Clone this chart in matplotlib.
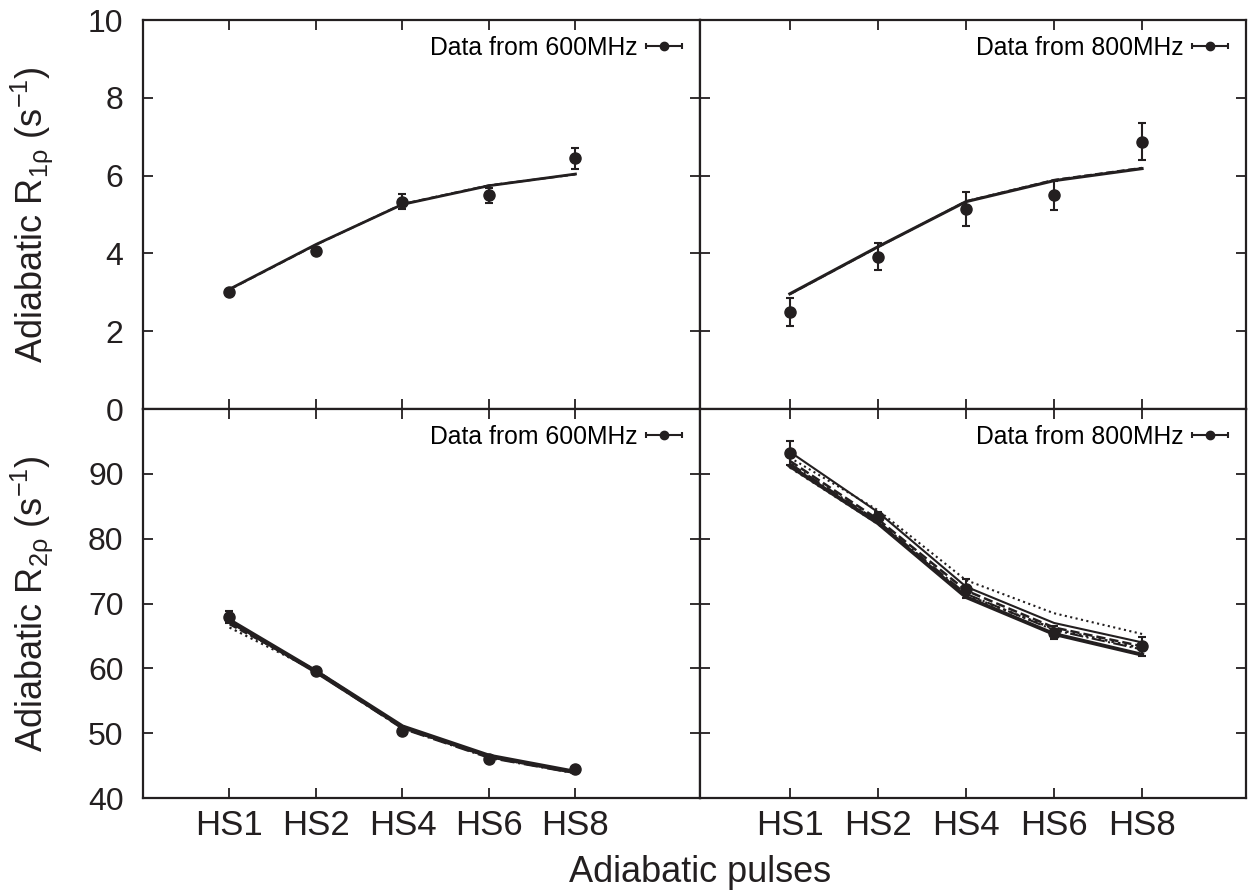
import numpy as np
import matplotlib
matplotlib.use('Agg')
import matplotlib.pyplot as plt
from matplotlib.legend_handler import HandlerErrorbar
from matplotlib.container import ErrorbarContainer

plt.rcParams['font.family'] = ['Liberation Sans', 'DejaVu Sans']

# Data
pulses = ['HS1', 'HS2', 'HS4', 'HS6', 'HS8']
xpos = np.arange(1, 6)

# R1rho
r1_600 = [3.00, 4.05, 5.33, 5.49, 6.44]
r1_600_err = [0.05, 0.05, 0.20, 0.20, 0.28]
r1_600_fit = [3.08, 4.23, 5.26, 5.74, 6.04]
r1_600_fit2 = [3.07, 4.22, 5.27, 5.75, 6.03]

r1_800 = [2.49, 3.92, 5.15, 5.49, 6.87]
r1_800_err = [0.36, 0.35, 0.44, 0.37, 0.48]
r1_800_fit = [2.96, 4.17, 5.33, 5.87, 6.18]
r1_800_fit2 = [2.95, 4.16, 5.34, 5.89, 6.20]

# R2rho
r2_600 = [67.9, 59.6, 50.4, 46.0, 44.4]
r2_600_err = [0.9, 0.4, 0.4, 0.4, 0.4]
r2_600_fits = [
    [67.4, 59.5, 51.0, 46.5, 44.0],
    [66.3, 59.6, 50.8, 46.3, 43.9],
    [66.8, 59.7, 50.9, 46.4, 44.0],
    [67.1, 59.4, 50.7, 46.2, 43.8],
]
r2_600_styles = ['-', ':', '--', '-.']
r2_600_widths = [3.2, 1.6, 1.6, 1.6]

r2_800 = [93.2, 83.3, 72.3, 65.5, 63.4]
r2_800_err = [1.8, 0.8, 1.5, 1.0, 1.5]
r2_800_fits = [
    [93.4, 84.1, 72.6, 67.0, 64.0],
    [92.5, 84.4, 73.6, 68.5, 65.3],
    [92.0, 83.0, 72.0, 66.3, 63.4],
    [91.6, 82.7, 71.5, 65.9, 62.9],
    [91.2, 82.4, 71.0, 65.3, 62.1],
    [91.0, 82.3, 71.3, 66.1, 63.1],
]
r2_800_styles = ['-', ':', '--', '-.', '-', ':']
r2_800_widths = [1.5, 1.5, 1.8, 1.5, 2.8, 1.8]

C = '#231f20'

fig = plt.figure(figsize=(12.49, 8.92), dpi=100)
gs = fig.add_gridspec(2, 2, width_ratios=[557, 546], wspace=0, hspace=0,
                      left=143/1249, right=1246/1249, top=1-20/892, bottom=1-798/892)
axes = [[fig.add_subplot(gs[i, j]) for j in range(2)] for i in range(2)]


def style(ax, xlim):
    ax.set_xlim(*xlim)
    ax.set_xticks(xpos)
    ax.tick_params(direction='in', length=7, width=1.3, top=True, right=True,
                   colors=C)
    ax.tick_params(axis='y', labelsize=23, pad=14)
    ax.tick_params(axis='x', labelsize=25, pad=8)
    for s in ax.spines.values():
        s.set_linewidth(1.6)
        s.set_color(C)


def add_legend(ax, label):
    # gnuplot-style key: marker with horizontal error bar to the right of the text
    proxy = ax.errorbar([np.nan], [np.nan], xerr=[1], fmt='o', color=C,
                        markersize=6, capsize=2.5, elinewidth=1.5, capthick=1.5)
    ax.legend([proxy], [label], loc='upper right', frameon=False, markerfirst=False,
              fontsize=17.8, handlelength=1.46, handletextpad=0.33,
              borderaxespad=0, bbox_to_anchor=(0.985, 0.985),
              handler_map={ErrorbarContainer: HandlerErrorbar(xerr_size=0.73)})


xl_left = (0, 6.44)
xl_right = (-0.02, 6.18)

ylab1 = r'Adiabatic R$_{\mathregular{1ρ}}$ (s$^{\mathregular{-1}}$)'
ylab2 = r'Adiabatic R$_{\mathregular{2ρ}}$ (s$^{\mathregular{-1}}$)'

# Top-left
ax = axes[0][0]
ax.plot(xpos, r1_600_fit, '-', color=C, lw=2.0)
ax.plot(xpos, r1_600_fit2, '--', color=C, lw=1.5)
ax.errorbar(xpos, r1_600, yerr=r1_600_err, fmt='o', color=C, markersize=8,
            capsize=3, elinewidth=1.5, capthick=1.5)
ax.set_ylim(0, 10)
ax.set_yticks([0, 2, 4, 6, 8, 10])
style(ax, xl_left)
ax.tick_params(labelbottom=False)
ax.set_ylabel(ylab1, fontsize=26, color=C)
add_legend(ax, 'Data from 600MHz')

# Top-right
ax = axes[0][1]
ax.plot(xpos, r1_800_fit, '-', color=C, lw=2.2)
ax.plot(xpos, r1_800_fit2, '--', color=C, lw=1.5)
ax.errorbar(xpos, r1_800, yerr=r1_800_err, fmt='o', color=C, markersize=8,
            capsize=3, elinewidth=1.5, capthick=1.5)
ax.set_ylim(0, 10)
ax.set_yticks([0, 2, 4, 6, 8, 10])
style(ax, xl_right)
ax.tick_params(labelbottom=False, labelleft=False)
add_legend(ax, 'Data from 800MHz')

# Bottom-left
ax = axes[1][0]
for vals, ls, lw in zip(r2_600_fits, r2_600_styles, r2_600_widths):
    ax.plot(xpos, vals, linestyle=ls, color=C, lw=lw)
ax.errorbar(xpos, r2_600, yerr=r2_600_err, fmt='o', color=C, markersize=8,
            capsize=3, elinewidth=1.5, capthick=1.5)
ax.set_ylim(40, 100)
ax.set_yticks([40, 50, 60, 70, 80, 90, 100])
ax.set_yticklabels(['40', '50', '60', '70', '80', '90', ''])
style(ax, xl_left)
ax.set_xticklabels(pulses)
ax.set_ylabel(ylab2, fontsize=26, color=C)
add_legend(ax, 'Data from 600MHz')

# Bottom-right
ax = axes[1][1]
for vals, ls, lw in zip(r2_800_fits, r2_800_styles, r2_800_widths):
    ax.plot(xpos, vals, linestyle=ls, color=C, lw=lw)
ax.errorbar(xpos, r2_800, yerr=r2_800_err, fmt='o', color=C, markersize=8,
            capsize=3, elinewidth=1.5, capthick=1.5)
ax.set_ylim(40, 100)
ax.set_yticks([40, 50, 60, 70, 80, 90, 100])
style(ax, xl_right)
ax.tick_params(labelleft=False)
ax.set_xticklabels(pulses)
add_legend(ax, 'Data from 800MHz')

fig.text(700/1249, 1-872/892, 'Adiabatic pulses', ha='center', va='center',
         fontsize=26, color=C)

# align y labels
axes[0][0].yaxis.set_label_coords(-0.158, 0.5)
axes[1][0].yaxis.set_label_coords(-0.158, 0.5)

fig.savefig('out.png', dpi=100)
